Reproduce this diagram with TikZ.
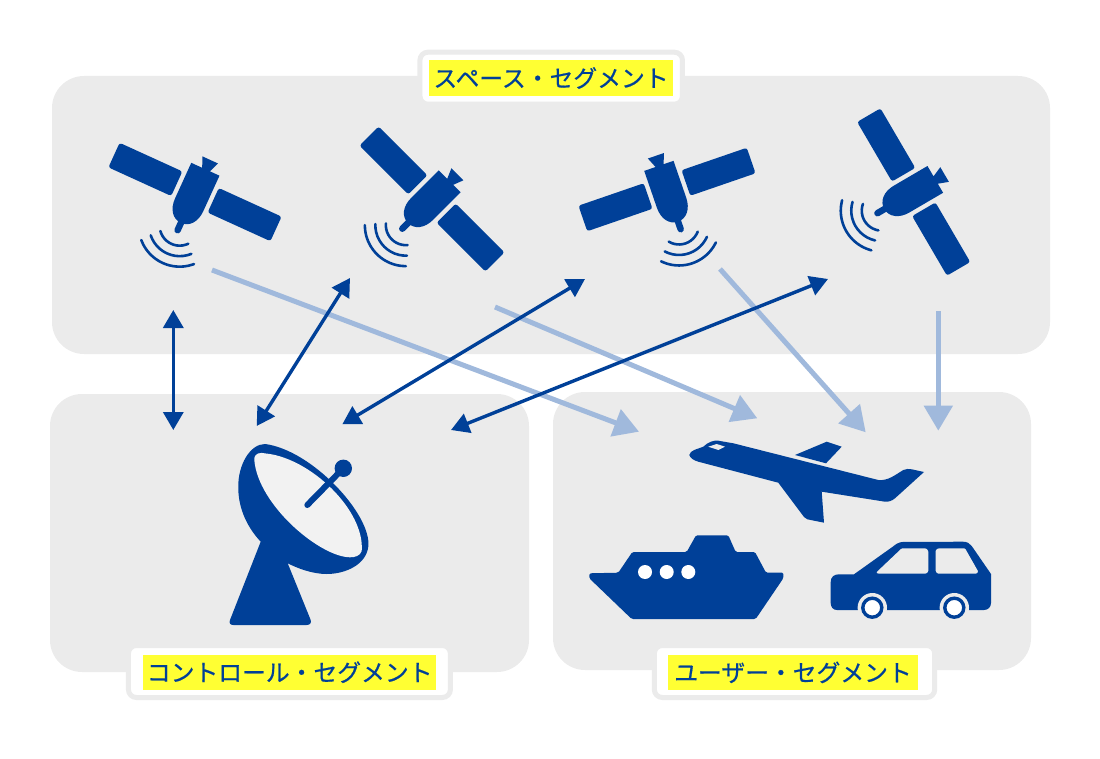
\documentclass[tikz,border=0pt]{standalone}
\usepackage{fontspec}
\usepackage{xcolor}
\newfontfamily\jpfont{Noto Sans CJK JP}[FakeBold=0.6]
\usetikzlibrary{arrows.meta}
\definecolor{segblue}{HTML}{004098}
\definecolor{seggray}{HTML}{EBEBEB}
\definecolor{seglight}{HTML}{A0B9DC}
\definecolor{segyellow}{HTML}{FFFF33}
\definecolor{dishface}{HTML}{F2F2F2}

\begin{document}
\begin{tikzpicture}[x=1pt,y=-1pt,
  segpanel/.style={seggray,rounded corners=32pt},
  segframe/.style={draw=seggray,fill=white,line width=5pt,rounded corners=8pt,inner sep=0pt,minimum height=52pt},
  seglabel/.style={fill=segyellow,text=segblue,font=\jpfont\fontsize{23.8}{24}\selectfont,inner sep=0pt,minimum height=35pt},
  link/.style={{Triangle[length=18pt,width=20pt]}-{Triangle[length=18pt,width=20pt]},segblue,line width=3.4pt},
  downlink/.style={-{Triangle[length=25pt,width=28pt]},seglight,line width=5pt},
  satellite/.pic={
    \fill[rounded corners=2.5pt] (-89,-13.5) rectangle (-20,13.5);
    \fill[rounded corners=2.5pt] (20,-13.5) rectangle (89,13.5);
    \fill (-15.5,-25) -- (-3.5,-25) -- (-8,-35.5) -- (9,-35.5) -- (5,-25) -- (15.5,-25) -- (15.5,14)
      .. controls (15.5,26) and (9,34) .. (0,34) .. controls (-9,34) and (-15.5,26) .. (-15.5,14) -- cycle;
    \draw[line width=6.5pt,line cap=round] (0,30) -- (0,42);
    \foreach \rad/\ang in {20/50,30.5/47,41/45}
      \draw[line width=2.6pt,line cap=round] plot[smooth,domain=-\ang:\ang,samples=13] ({\rad*sin(\x)},{37+\rad*cos(\x)});
  }]
\useasboundingbox (0,0) rectangle (1100,759);
\fill[segpanel] (52,76) rectangle (1050,354);
\fill[segpanel] (50,394) rectangle (529,672);
\fill[segpanel] (553,392) rectangle (1031,670);

% satellites
\begin{scope}[segblue]
  \foreach \px/\py/\tilt in {195/192/-24.5,432/199/-45,667/189.5/19,913.7/192/-59.7}
    \pic[rotate=\tilt] at (\px,\py) {satellite};
\end{scope}

% link ends
\foreach \cname/\cx/\cy in {beamA/212/270,beamB/495/307,beamC/720/269,beamD/938.3/311,
    userA/639/431.7,userB/757.3/418.3,userC/865.7/432.3,userD/938.3/430.7,
    upA/173.3/310,upB/350/278,upC/585/279,upD/828/279,
    groundA/173.3/430,groundB/256.7/426,groundC/342.3/424.3,groundD/451/430}
  \coordinate (\cname) at (\cx,\cy);
\foreach \l in {A,B,C,D} \draw[downlink] (beam\l) -- (user\l);
\foreach \l in {A,B,C,D} \draw[link] (up\l) -- (ground\l);

% antenna
\fill[segblue] (260.7,541.7) .. controls (245,525) and (238,505) .. (238.3,486.7)
  .. controls (238,465) and (250,444) .. (265,444) .. controls (312,450) and (372,515) .. (368.3,546.7)
  .. controls (366,565) and (345,574) .. (326.7,574) .. controls (312,574) and (297,568) .. (287.7,563.3)
  -- (310.7,620) .. controls (311.5,623) and (310,625) .. (306.7,625) -- (233.3,625)
  .. controls (230,625) and (229,623) .. (230,620) -- cycle;
\fill[dishface] (254.3,460) .. controls (254,453) and (260,452) .. (266,453.5)
  .. controls (310,458) and (365,510) .. (361.7,551) .. controls (360,556) and (355,557.3) .. (350,557.3)
  .. controls (320,557) and (258,505) .. (254.3,460) -- cycle;
\draw[segblue,line width=6pt,line cap=round] (307.3,505) -- (343.3,468.3);
\fill[segblue] (343.3,468.3) circle (8.7);

% plane
\fill[segblue] (689.3,455) .. controls (690,450) and (698,449) .. (703.3,446.7)
  .. controls (708,442) and (714,440) .. (718.3,440.7) -- (733.3,443.3) -- (878.3,480)
  .. controls (888,481) and (895,475) .. (903.3,470) .. controls (906,468.5) and (909,469) .. (911.7,469.3) -- (924,472)
  -- (895,498.3) .. controls (892,501) and (888,502) .. (885,501.7) -- (821.7,491.7) -- (824,522.7) -- (807.3,519.3)
  .. controls (806,519) and (805,518) .. (804,517) -- (778.3,482.7) -- (698.3,461.7)
  .. controls (694,460.5) and (690,458) .. (689.3,455) -- cycle;
\fill[seggray] (708.3,446.7) -- (716.7,444) -- (725,446.7) -- (718.3,450) -- cycle;
\fill[segblue] (795,455) -- (826.7,441.7) -- (841.7,446.7) -- (826,463.3) -- cycle;

% ship
\fill[segblue,rounded corners=1.5pt] (589.3,573.3) -- (618.3,572.7) -- (632.3,552) -- (686.7,552) -- (696,535.3) -- (728.3,535.3)
  -- (735.7,552) -- (755,552) -- (766,572.7) -- (783.5,572.7) -- (783.3,578.3) -- (755.7,619) -- (631.7,619) -- (589.3,578.3) -- cycle;
\foreach \wx in {645,666.7,688.3} \fill[white] (\wx,572) circle (7);

% car
\fill[segblue] (830.7,582) .. controls (830.7,577) and (834,574.3) .. (839,574.3) -- (854,574.3) -- (893,546.5)
  .. controls (896,544) and (898,542.7) .. (902,542) -- (963,541.7) .. controls (967,541.7) and (970,543.5) .. (971.7,546)
  -- (991,574) -- (991,603) .. controls (991,607) and (988,610) .. (984,610) -- (837,610)
  .. controls (833,610) and (830.7,607) .. (830.7,603) -- cycle;
\fill[seggray,rounded corners=1pt] (876,572.7) -- (901.7,548.3) -- (926,548.3) -- (928.3,550.7) -- (928.3,571.7) -- (926,573.7) -- (878.3,573.7) -- cycle;
\fill[seggray,rounded corners=1pt] (935.7,550) -- (938.3,548.3) -- (965,548.3) -- (978.3,571.7) -- (976.7,573.7) -- (937.7,573.7) -- (935.7,571.7) -- cycle;
\foreach \wx in {872.3,954.3} {
  \fill[seggray] (\wx,607.7) circle (14.7);
  \draw[segblue,line width=3.4pt,fill=white] (\wx,607.7) circle (9.5);
}

% labels
\node[segframe,minimum width=262.5pt] (spaceframe) at (551.2,78.2) {};
\node[seglabel,minimum width=244pt,minimum height=36pt] (spacelabel) at (551,78) {\raisebox{1pt}{スペース・セグメント}};
\node[segframe,minimum width=322pt] (controlframe) at (289.4,671.5) {};
\node[seglabel,minimum width=292.7pt] (controllabel) at (289.7,672.2) {コントロール・セグメント};
\node[segframe,minimum width=280.4pt] (userframe) at (794.5,671.5) {};
\node[seglabel,minimum width=250pt] (userlabel) at (793,672.4) {ユーザー・セグメント};
\end{tikzpicture}
\end{document}
